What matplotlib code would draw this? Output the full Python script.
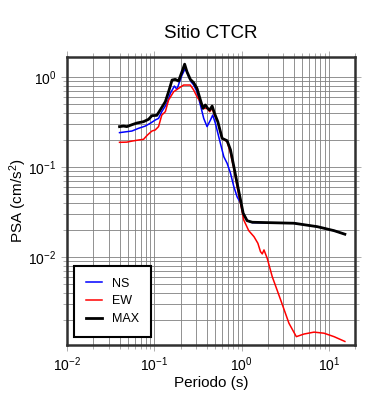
import matplotlib
matplotlib.use("Agg")
import matplotlib.pyplot as plt

plt.rcParams['font.family'] = ['Liberation Sans', 'DejaVu Sans']
plt.rcParams['mathtext.fontset'] = 'custom'
plt.rcParams['mathtext.rm'] = 'Liberation Sans'
plt.rcParams['mathtext.it'] = 'Liberation Sans:italic'
plt.rcParams['mathtext.default'] = 'regular'

# periods (s) and spectral values
t_ns = [0.040, 0.0485, 0.0554, 0.066, 0.0789, 0.090, 0.1027, 0.112, 0.122, 0.140,
        0.153, 0.170, 0.182, 0.195, 0.208, 0.227, 0.244, 0.264, 0.283, 0.309,
        0.338, 0.369, 0.403, 0.441, 0.468, 0.502, 0.548, 0.627, 0.684, 0.748,
        0.817, 0.891, 0.975, 1.045, 1.16, 1.33, 4.0, 7.4, 11.5, 15.3]
psa_ns = [0.241, 0.247, 0.251, 0.269, 0.285, 0.306, 0.333, 0.347, 0.412, 0.510,
          0.659, 0.794, 0.730, 0.887, 1.05, 1.25, 1.05, 0.887, 0.815, 0.687,
          0.489, 0.347, 0.281, 0.333, 0.378, 0.306, 0.217, 0.130, 0.110, 0.0851,
          0.0604, 0.0465, 0.040, 0.0306, 0.0253, 0.0241, 0.0237, 0.0217, 0.0196, 0.0179]

t_ew = [0.040, 0.0485, 0.0554, 0.066, 0.0753, 0.0837, 0.094, 0.1027, 0.112, 0.122,
        0.134, 0.146, 0.167, 0.190, 0.217, 0.259, 0.283, 0.309, 0.338, 0.369,
        0.403, 0.432, 0.461, 0.490, 0.535, 0.600, 0.684, 0.748, 0.817, 0.891,
        0.975, 1.06, 1.21, 1.39, 1.54, 1.65, 1.73, 1.81, 1.97, 2.25,
        2.81, 3.50, 4.25, 5.20, 6.78, 8.83, 11.5, 15.3]
psa_ew = [0.188, 0.189, 0.194, 0.1995, 0.203, 0.227, 0.251, 0.258, 0.281, 0.378,
          0.412, 0.555, 0.687, 0.748, 0.815, 0.815, 0.717, 0.604, 0.532, 0.448,
          0.448, 0.412, 0.448, 0.378, 0.319, 0.208, 0.191, 0.142, 0.0966, 0.0604,
          0.0395, 0.0258, 0.0196, 0.0168, 0.0142, 0.01146, 0.0108, 0.01197, 0.00967, 0.00604,
          0.00333, 0.00183, 0.00130, 0.00139, 0.00146, 0.00142, 0.00130, 0.00115]

t_max = [0.040, 0.0444, 0.0485, 0.0554, 0.0632, 0.0753, 0.0861, 0.094, 0.107, 0.117,
         0.134, 0.146, 0.160, 0.174, 0.190, 0.208, 0.223, 0.237, 0.259, 0.283,
         0.309, 0.338, 0.362, 0.385, 0.410, 0.432, 0.461, 0.490, 0.535, 0.600,
         0.684, 0.748, 0.817, 0.891, 0.975, 1.045, 1.16, 1.33, 4.0, 7.4,
         11.5, 15.3]
psa_max = [0.281, 0.285, 0.281, 0.295, 0.308, 0.319, 0.339, 0.372, 0.375, 0.430,
           0.532, 0.687, 0.926, 0.942, 0.903, 1.146, 1.39, 1.146, 0.942, 0.865,
           0.748, 0.555, 0.448, 0.489, 0.448, 0.430, 0.476, 0.395, 0.319, 0.208,
           0.196, 0.155, 0.101, 0.0659, 0.043, 0.0306, 0.0253, 0.0243, 0.0237, 0.0217,
           0.0196, 0.0179]

fig = plt.figure(figsize=(3.9, 4.0), dpi=100)
ax = fig.add_axes([0.1718, 0.1375, 0.7385, 0.72])

ax.plot(t_ns, psa_ns, color='blue', lw=1.1, label='NS')
ax.plot(t_ew, psa_ew, color='red', lw=1.1, label='EW')
ax.plot(t_max, psa_max, color='black', lw=2.0, label='MAX')

ax.set_xscale('log')
ax.set_yscale('log')
ax.set_xlim(0.01, 20)
ax.set_ylim(0.00105, 1.67)

ax.grid(True, which='both', color='#808080', lw=0.6)
ax.set_axisbelow(True)
ax.tick_params(which='both', direction='out', color='#a0a0a0', length=4, width=0.6,
               top=True, right=True, labelsize=10)
ax.tick_params(which='minor', length=3)
ax.yaxis.set_minor_formatter(plt.NullFormatter())
ax.xaxis.set_minor_formatter(plt.NullFormatter())
for s in ax.spines.values():
    s.set_linewidth(1.8)
    s.set_color('#303030')

ax.set_title('Sitio CTCR', fontsize=13.5, pad=14)
ax.set_xlabel('Periodo (s)', fontsize=11)
ax.set_ylabel('PSA (cm/s$^2$)', fontsize=11)
ax.yaxis.set_label_coords(-0.131, 0.5)
ax.xaxis.set_label_coords(0.5, -0.108)

leg = ax.legend(loc='lower left', bbox_to_anchor=(0.024, 0.028), borderaxespad=0,
                fancybox=False, edgecolor='black', framealpha=1, fontsize=9,
                handlelength=1.3, borderpad=0.95, labelspacing=0.45, handletextpad=0.8)
leg.get_frame().set_linewidth(1.5)

fig.savefig('out.png', dpi=100)
